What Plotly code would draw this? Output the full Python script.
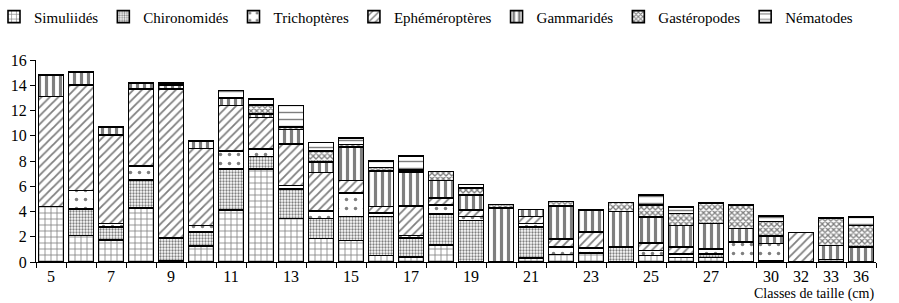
import plotly.graph_objects as go

categories = [5, 6, 7, 8, 9, 10, 11, 12, 13, 14, 15, 16, 17, 18, 19, 20,
              21, 22, 23, 24, 25, 26, 27, 28, 30, 32, 33, 36]
tick_labels = ["5", "", "7", "", "9", "", "11", "", "13", "", "15", "", "17", "",
               "19", "", "21", "", "23", "", "25", "", "27", "", "30", "32", "33", "36"]

simuliides = [4.4, 2.1, 1.75, 4.3, 0.1, 1.25, 4.1, 7.35, 3.45, 1.85, 1.7, 0.5, 0.4, 1.33,
              0, 0, 0.3, 0.6, 0.7, 0, 0.5, 0.35, 0.35, 0, 0.1, 0, 0.2, 0]
chironomides = [0, 2.1, 1.0, 2.2, 1.8, 1.15, 3.25, 1.0, 2.35, 1.6, 1.9, 3.1, 1.5, 2.47,
                3.3, 0, 2.45, 0, 0, 1.2, 0, 0, 0.3, 0, 0, 0, 0, 0]
trichopteres = [0, 1.45, 0.3, 1.1, 0, 0.5, 1.45, 0.6, 0.25, 0.6, 1.85, 0.3, 0.2, 0.7,
                0.3, 0, 0.3, 0.6, 0.4, 0, 0.4, 0.3, 0.4, 1.6, 1.35, 0, 0, 0]
ephemeropteres = [8.7, 8.35, 7.0, 6.1, 11.8, 6.1, 3.6, 2.5, 3.3, 3.05, 1.0, 0.5, 2.35, 0.55,
                  0.5, 0, 0.55, 0.6, 1.3, 0, 0.6, 0.55, 0, 0, 0, 2.35, 0, 0]
gammarides = [1.7, 1.05, 0.65, 0.5, 0.3, 0.6, 0.6, 0.25, 1.15, 0.8, 2.65, 2.8, 2.7, 1.4,
              1.2, 4.3, 0.55, 2.65, 1.73, 2.8, 2.05, 1.7, 2.0, 1.05, 0.6, 0, 1.1, 1.2]
gasteropodes = [0, 0, 0, 0, 0, 0, 0, 0.75, 0.2, 0.9, 0.2, 0.3, 0.15, 0.72,
                0.55, 0.25, 0, 0.35, 0, 0.7, 0.95, 0.95, 1.6, 1.85, 1.15, 0, 2.2, 1.7]
nematodes = [0, 0, 0, 0, 0.2, 0, 0.6, 0.45, 1.7, 0.65, 0.5, 0.5, 1.1, 0,
             0.3, 0, 0, 0, 0, 0, 0.8, 0.5, 0, 0, 0.45, 0, 0, 0.65]

series = [
    ("Simuliidés", simuliides, dict(shape="+", size=6, solidity=0.25)),
    ("Chironomidés", chironomides, dict(shape=".", size=3, solidity=0.45)),
    ("Trichoptères", trichopteres, dict(shape=".", size=9, solidity=0.12)),
    ("Ephéméroptères", ephemeropteres, dict(shape="/", size=6, solidity=0.3)),
    ("Gammaridés", gammarides, dict(shape="|", size=7, solidity=0.45)),
    ("Gastéropodes", gasteropodes, dict(shape="x", size=4, solidity=0.55)),
    ("Nématodes", nematodes, dict(shape="-", size=7, solidity=0.2)),
]

SERIF = "Liberation Serif"

x_labels = [str(c) for c in categories]
fig = go.Figure()
for name, vals, pat in series:
    fig.add_trace(go.Bar(
        name=name, x=x_labels, y=[v if v else None for v in vals],
        marker=dict(color="white", line=dict(color="black", width=1.6),
                    pattern=dict(fgcolor="black", bgcolor="white", **pat)),
    ))

fig.update_layout(
    barmode="stack", bargap=0.16,
    width=899, height=303,
    margin=dict(l=36, r=23, t=60, b=41, autoexpand=False),
    plot_bgcolor="white", paper_bgcolor="white",
    font=dict(family=SERIF, size=15, color="black"),
    showlegend=True,
    legend=dict(orientation="h", x=-0.05, y=1.295, xanchor="left", yanchor="top",
                font=dict(family=SERIF, size=15), itemwidth=30, tracegroupgap=0,
                traceorder="normal", entrywidthmode="pixels", entrywidth=0),
    xaxis=dict(type="category", tickmode="array", tickvals=x_labels, ticktext=tick_labels,
               tickson="boundaries", ticks="outside", ticklen=5, tickcolor="black",
               showline=True, linecolor="black", linewidth=1, showgrid=False,
               tickfont=dict(family=SERIF, size=16)),
    yaxis=dict(range=[0, 16], tickvals=[0, 2, 4, 6, 8, 10, 12, 14, 16], ticks="outside",
               ticklen=5, tickcolor="black", showline=True, linecolor="black",
               linewidth=1, showgrid=False, zeroline=False,
               tickfont=dict(family=SERIF, size=16)),
    annotations=[dict(text="Classes de taille (cm)", x=1, y=-0.157, xref="paper",
                      yref="paper", xanchor="right", yanchor="middle", showarrow=False,
                      font=dict(family=SERIF, size=14))],
)

fig.write_html("out.html", config={"displayModeBar": False},
               post_script="document.body.style.margin='0';")
